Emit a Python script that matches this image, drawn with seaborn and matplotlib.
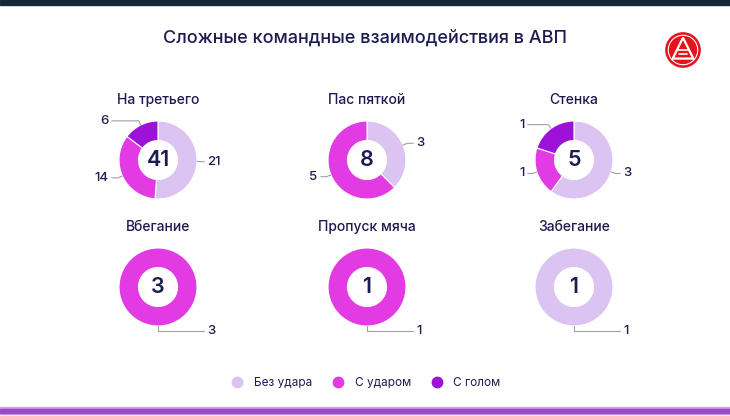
import numpy as np
import seaborn as sns
import matplotlib.pyplot as plt
from matplotlib.patches import Rectangle, Circle, Polygon
from matplotlib.lines import Line2D

# Данные
titles = ["На третьего", "Пас пяткой", "Стенка", "Вбегание", "Пропуск мяча", "Забегание"]
bez_udara = [21, 3, 3, 0, 0, 1]
s_udarom = [14, 5, 1, 3, 1, 0]
s_golom = [6, 0, 1, 0, 0, 0]
series_names = ["Без удара", "С ударом", "С голом"]

sns.set_theme(style="white")
plt.rcParams['font.family'] = ['Inter', 'DejaVu Sans']

colors = ["#dcc4f2", "#e23be3", "#9c12d9"]
navy = "#1d1b50"

W, H = 730, 416
fig = plt.figure(figsize=(W / 100, H / 100), dpi=100)
fig.patch.set_facecolor("white")

# полосы сверху и снизу
fig.patches.append(Rectangle((0, 1 - 5 / H), 1, 5 / H, transform=fig.transFigure,
                             color="#13293b", zorder=0))
fig.patches.append(Rectangle((0, 1 - 414 / H), 1, 7 / H, transform=fig.transFigure,
                             color="#c9a0e4", zorder=0))
fig.patches.append(Rectangle((0, 1 - 412.5 / H), 1, 4 / H, transform=fig.transFigure,
                             color="#9a4ac8", zorder=0))

fig.text(365 / W, 1 - 38 / H, "Сложные командные взаимодействия в АВП",
         ha="center", va="center", fontsize=13, color=navy, fontweight="medium")

centers = [(158, 160), (367, 160), (574, 160), (158, 287), (367, 287), (574, 287)]
R = 39  # радиус в пикселях
half = 75

for i, title in enumerate(titles):
    cx, cy = centers[i]
    ax = fig.add_axes([(cx - half) / W, 1 - (cy + half) / H, 2 * half / W, 2 * half / H])
    vals = [bez_udara[i], s_udarom[i], s_golom[i]]
    used = [(v, c) for v, c in zip(vals, colors) if v > 0]
    wedges, _ = ax.pie([v for v, _ in used], colors=[c for _, c in used], radius=1,
                       startangle=90, counterclock=False,
                       wedgeprops=dict(width=0.5, edgecolor="white", linewidth=0.8))
    lim = half / R
    ax.set_xlim(-lim, lim)
    ax.set_ylim(-lim, lim)
    ax.set_aspect("equal")
    ax.axis("off")
    ax.text(0, 0, str(sum(vals)), ha="center", va="center", fontsize=15.5,
            color=navy, fontweight="semibold")
    for w, (v, _) in zip(wedges, used):
        ang = (w.theta2 - w.theta1) / 2 + w.theta1
        x = np.cos(np.deg2rad(ang))
        y = np.sin(np.deg2rad(ang))
        sx = 1 if x >= -1e-6 else -1
        ax.annotate(str(v), xy=(x, y), xytext=(1.27 * sx, 1.12 * y),
                    ha="left" if sx > 0 else "right", va="center",
                    fontsize=9.5, color=navy, fontweight="medium",
                    arrowprops=dict(arrowstyle="-", color="#a0a0a0", lw=0.8,
                                    shrinkA=0, shrinkB=0,
                                    connectionstyle=f"angle,angleA=0,angleB={ang}"))
    fig.text(cx / W, 1 - (cy - 60) / H, title, ha="center", va="center",
             fontsize=10, color=navy, fontweight="medium")

# логотип
lax = fig.add_axes([665 / W, 1 - 68 / H, 36 / W, 36 / H])
lax.set_xlim(-1.05, 1.05)
lax.set_ylim(-1.05, 1.05)
lax.set_aspect("equal")
lax.axis("off")
lax.add_patch(Circle((0, 0), 1, color="#e3141b"))
lax.add_patch(Circle((0, 0), 0.86, fill=False, ec="white", lw=0.8))
lax.add_patch(Polygon([(0, 0.72), (-0.6, -0.5), (0.6, -0.5)], closed=True,
                      fill=False, ec="white", lw=1.6))
lax.plot([-0.35, 0.35], [0.0, 0.0], color="white", lw=1.2)
lax.plot([-0.22, 0.22], [-0.25, -0.25], color="white", lw=1.2)

handles = [Line2D([], [], marker="o", linestyle="", markersize=7.5,
                  markerfacecolor=c, markeredgecolor=c) for c in colors]
fig.legend(handles, series_names, loc="center", bbox_to_anchor=(366 / W, 1 - 383 / H),
           ncol=3, frameon=False, fontsize=8.5, handlelength=1, handletextpad=0.9,
           columnspacing=1.7, labelcolor=navy)

fig.savefig("out.png", dpi=100)
